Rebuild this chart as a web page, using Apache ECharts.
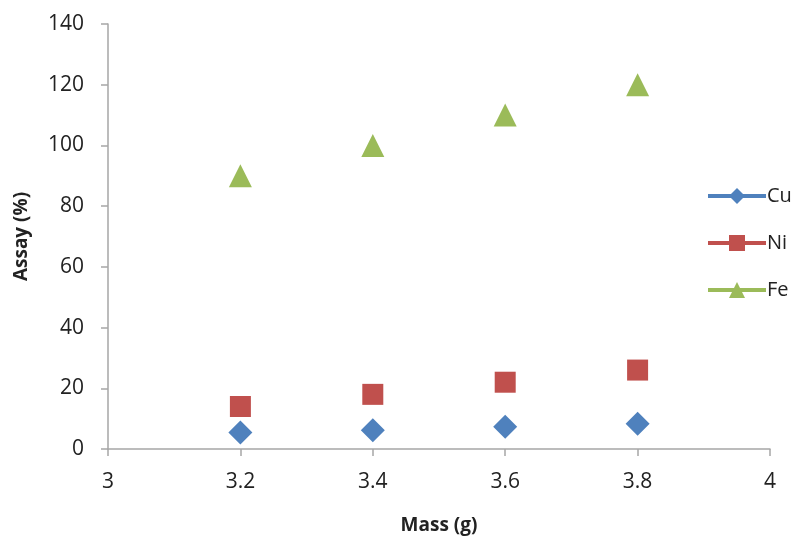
<!DOCTYPE html>
<html>
<head>
<meta charset="utf-8">
<script src="https://cdn.jsdelivr.net/npm/echarts@6/dist/echarts.min.js"></script>
<style>html,body{margin:0;padding:0;background:#fff;}#c{width:794px;height:536px;}</style>
</head>
<body>
<div id="c"></div>
<script>
var mass = [3.2, 3.4, 3.6, 3.8];
var cu = [5.4, 6.2, 7.3, 8.3];
var ni = [14, 18, 22, 26];
var fe = [90, 100, 110, 120];
var xTitle = 'Mass (g)';
var yTitle = 'Assay (%)';

function pairs(xs, ys){ return xs.map(function(x,i){ return [x, ys[i]]; }); }

var font = '"Open Sans", "Noto Sans", sans-serif';
var chart = echarts.init(document.getElementById('c'));
chart.setOption({
  animation: false,
  backgroundColor: '#fff',
  grid: {left: 108, right: 24, top: 24, bottom: 87, outerBoundsMode: 'none', containLabel: false},
  legend: {
    orient: 'vertical', left: 701, top: 181,
    itemWidth: 58, itemHeight: 20, itemGap: 27,
    textStyle: {fontFamily: font, fontSize: 20, color: '#222', padding: [0,0,0,-4]},
    lineStyle: {width: 4, opacity: 1},
    data: ['Cu', 'Ni', 'Fe']
  },
  xAxis: {
    type: 'value', min: 3, max: 4, interval: 0.2,
    name: xTitle, nameLocation: 'middle', nameGap: 67,
    nameTextStyle: {fontFamily: font, fontSize: 19, fontWeight: 'bold', color: '#222'},
    axisLine: {show: true, lineStyle: {color: '#a6a6a6', width: 1.5}},
    axisTick: {show: true, length: 7, lineStyle: {color: '#a6a6a6', width: 1.5}},
    axisLabel: {fontFamily: font, fontSize: 21, color: '#222', margin: 23},
    splitLine: {show: false}
  },
  yAxis: {
    type: 'value', min: 0, max: 140, interval: 20,
    name: yTitle, nameLocation: 'middle', nameGap: 77, nameRotate: 90,
    nameTextStyle: {fontFamily: font, fontSize: 19, fontWeight: 'bold', color: '#222'},
    axisLine: {show: true, lineStyle: {color: '#a6a6a6', width: 1.5}},
    axisTick: {show: true, length: 7, lineStyle: {color: '#a6a6a6', width: 1.5}},
    axisLabel: {fontFamily: font, fontSize: 21, color: '#222', margin: 24},
    splitLine: {show: false}
  },
  series: [
    {name: 'Cu', type: 'line', data: pairs(mass, cu), symbol: 'diamond', symbolSize: 24,
     itemStyle: {color: '#4F81BD'}, lineStyle: {width: 0, opacity: 0}},
    {name: 'Ni', type: 'line', data: pairs(mass, ni), symbol: 'rect', symbolSize: 21,
     itemStyle: {color: '#C0504D'}, lineStyle: {width: 0, opacity: 0}},
    {name: 'Fe', type: 'line', data: pairs(mass, fe), symbol: 'triangle', symbolSize: 23,
     itemStyle: {color: '#9BBB59'}, lineStyle: {width: 0, opacity: 0}}
  ]
});
</script>
</body>
</html>
